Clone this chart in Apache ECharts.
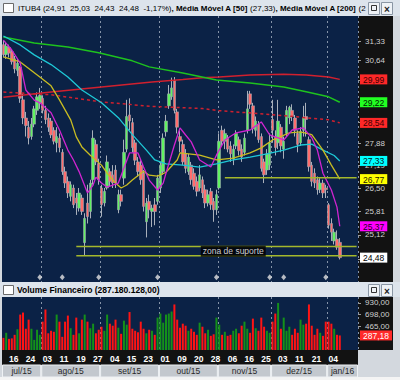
<!DOCTYPE html>
<html><head><meta charset="utf-8">
<script src="https://cdn.jsdelivr.net/npm/echarts@6/dist/echarts.min.js"></script>
<style>html,body{margin:0;padding:0;background:#fff}#c{width:400px;height:380px}</style>
</head><body><div id="c"></div>
<script>
// ---------- categories (trading days) ----------
const tradingDays = {
  '2015-07': [14,15,16,17,20,21,22,23,24,27,28,29,30,31],
  '2015-08': [3,4,5,6,7,10,11,12,13,14,17,18,19,20,21,24,25,26,27,28,31],
  '2015-09': [1,2,3,4,8,9,10,11,14,15,16,17,18,21,22,23,24,25,28,29,30],
  '2015-10': [1,2,5,6,7,8,9,13,14,15,16,19,20,21,22,23,26,27,28,29,30],
  '2015-11': [3,4,5,6,9,10,11,12,13,16,17,18,19,23,24,25,26,27,30],
  '2015-12': [1,2,3,4,7,8,9,10,11,14,15,16,17,18,21,22,23,28,29,30],
  '2016-01': [4,5,6,7,8,11,12,13,14,15,18]
};
const dateLabels = ['2015-07-16','2015-07-24','2015-08-03','2015-08-11','2015-08-19','2015-08-27','2015-09-04','2015-09-15','2015-09-23','2015-10-01','2015-10-09','2015-10-20','2015-10-28','2015-11-06','2015-11-16','2015-11-25','2015-12-03','2015-12-11','2015-12-21','2016-01-04'];
const monthNames = ['jan','fev','mar','abr','mai','jun','jul','ago','set','out','nov','dez'];
const eventDates = ['2015-07-31','2015-08-12','2015-08-31','2015-09-30','2015-10-30','2015-11-30','2015-12-07','2015-12-30'];

// ---------- price data ----------
const open  = [31.20,30.85,31.10,30.95,30.70,30.30,30.40,29.30,28.70,28.40,28.10,28.50,28.95,29.20,
  29.35,28.95,28.70,28.60,28.30,27.90,28.05,27.60,27.00,26.70,26.25,26.50,26.20,25.90,26.20,24.90,26.05,25.80,26.75,27.85,27.25,
  26.50,26.05,26.50,27.00,26.90,27.05,25.85,26.30,26.80,27.70,28.80,28.55,27.90,27.30,27.20,26.95,25.50,26.10,25.80,26.00,26.10,
  26.50,27.00,28.25,29.10,29.40,29.95,28.90,28.10,27.85,27.55,27.00,27.20,26.95,26.70,26.50,26.75,26.45,26.05,26.40,26.10,25.85,
  26.50,28.30,27.95,28.05,27.80,27.40,27.80,28.00,27.70,27.60,28.30,29.50,29.10,28.30,28.50,28.10,27.30,27.05,27.20,
  28.65,28.10,27.90,28.40,27.70,28.20,28.70,28.95,28.70,28.20,27.90,28.30,28.75,28.00,27.20,26.95,26.75,26.45,26.65,26.50,
  26.00,25.45,24.95,25.00,24.91];
const close = [30.85,31.15,30.90,30.60,30.35,30.55,29.35,28.70,28.45,28.05,28.50,29.00,29.40,29.45,
  28.95,28.65,28.40,28.15,27.95,28.10,27.75,27.00,26.65,26.35,26.60,26.00,26.05,26.35,25.80,25.60,25.65,26.65,28.05,27.30,26.75,
  26.00,26.40,27.30,26.70,26.65,26.65,26.30,26.10,27.60,28.75,28.60,27.75,27.35,27.00,26.75,25.95,26.05,25.85,25.90,25.80,26.80,
  27.20,28.05,28.60,29.50,29.70,28.95,28.40,27.95,27.30,27.10,27.45,26.75,26.55,26.40,26.90,26.35,26.05,26.30,26.00,25.85,26.30,
  27.95,27.95,28.20,27.70,27.55,27.70,28.20,27.65,27.45,28.05,29.00,29.15,28.35,28.60,28.00,27.10,26.90,27.55,27.90,
  28.30,27.75,28.60,27.80,27.95,28.95,29.05,28.75,28.30,27.85,28.25,28.70,28.65,27.15,26.70,26.65,26.45,26.65,26.35,26.45,
  25.40,25.20,25.20,24.77,24.48];
const low   = [30.75,30.70,30.75,30.50,30.20,30.10,29.20,28.50,28.10,27.85,28.00,28.40,28.80,29.00,
  28.85,28.50,28.25,28.05,27.85,27.60,27.60,26.90,26.50,26.20,26.10,25.90,25.70,25.80,25.70,24.55,25.45,25.60,26.60,27.20,26.60,
  25.65,25.95,26.45,26.55,26.50,26.50,25.75,25.95,26.60,27.60,28.30,27.60,27.20,26.85,26.60,25.80,25.05,25.60,25.35,25.40,26.00,
  26.35,26.90,28.10,29.00,29.30,28.85,28.20,27.60,27.20,26.95,26.90,26.60,26.45,26.25,26.40,26.20,25.90,25.95,25.85,25.50,25.70,
  26.45,27.80,27.70,27.60,27.30,27.20,27.70,27.50,27.30,27.50,28.20,29.00,28.20,28.10,27.90,27.00,26.65,26.90,27.05,
  27.90,27.50,27.70,27.60,27.40,28.10,28.50,28.60,28.10,27.60,27.80,28.10,28.10,27.00,26.55,26.50,26.30,26.35,26.20,26.20,
  25.30,24.95,24.85,24.70,24.43];
const high  = [31.35,31.30,31.20,31.05,30.80,30.70,30.45,29.50,28.90,28.60,28.70,29.10,29.55,29.70,
  29.45,29.10,28.85,28.70,28.40,28.40,28.20,27.70,27.15,26.85,26.70,26.60,26.35,26.50,26.30,25.75,26.60,26.75,28.30,28.00,27.40,
  26.60,26.50,27.50,27.10,27.20,27.20,26.45,26.45,28.00,29.30,29.35,28.70,28.00,27.45,27.35,27.05,26.20,26.30,26.00,26.20,26.90,
  27.30,28.20,28.80,29.80,30.05,30.07,29.00,28.30,28.00,27.70,27.55,27.30,27.10,26.85,27.20,26.85,26.60,26.45,26.50,26.20,26.45,
  28.20,28.45,28.35,28.15,27.95,27.85,28.30,28.10,27.85,28.20,29.60,29.60,29.20,28.75,28.60,28.20,27.40,27.70,28.20,
  29.30,28.30,29.30,28.50,28.10,29.10,29.10,29.15,28.80,28.30,28.40,29.10,29.20,28.10,27.30,27.10,26.85,26.80,26.75,26.60,
  26.05,25.60,25.30,25.25,25.03];
// volume in millions
const volume = [240,340,220,230,300,410,700,740,420,600,420,200,400,300,
  560,800,330,380,360,700,560,260,560,680,430,300,640,330,600,700,560,430,520,330,400,
  460,380,700,520,480,600,440,320,580,500,750,420,380,350,560,420,330,400,380,300,640,
  720,540,700,720,760,900,600,440,520,480,380,420,360,300,540,460,330,400,280,310,640,
  500,300,360,280,300,380,420,330,480,560,420,340,620,430,380,640,460,380,340,
  560,720,930,420,640,380,460,300,420,340,600,500,520,900,480,300,420,340,280,560,
  560,520,420,300,287.180128];

// ---------- indicator lines: [category index, price] ----------
const lineGreen = [[0,31.47],[11,31.26],[23,31.12],[34,30.91],[46,30.63],[52,30.42],[64,30.21],[76,29.97],[88,29.87],[100,29.73],[108,29.57],[116,29.40],[120,29.22]];
const lineRed = [[0,29.39],[17,29.56],[35,29.73],[53,29.90],[64,29.99],[71,30.05],[77,30.07],[88,30.14],[100,30.17],[108,30.14],[116,30.07],[120,29.99]];
const lineRedDash = [[0,29.56],[17,29.47],[35,29.23],[53,29.08],[71,29.01],[77,28.94],[96,28.81],[116,28.64],[120,28.54]];
const ma50 = [[0,31.51],[6,31.19],[11,30.84],[17,30.50],[23,30.07],[28,29.63],[35,29.20],[41,28.71],[46,28.16],[51,27.67],[54,27.36],[58,27.24],[64,27.20],[70,27.14],[76,27.24],[82,27.36],[88,27.45],[94,27.55],[100,27.67],[106,27.83],[110,27.86],[114,27.67],[118,27.50],[120,27.33]];
const lineYellow = [[0,30.77],[6,30.59],[13,30.07],[17,29.77],[20,29.30],[24,28.64],[26,28.09],[28,27.77],[31,27.51],[35,27.20],[37,26.95],[40,26.65],[42,26.50],[44,26.59],[46,26.74],[50,27.01],[52,26.89],[55,26.86],[58,26.98],[62,27.36],[63,27.58],[70,27.51],[76,27.36],[82,27.42],[88,27.58],[92,27.74],[96,27.99],[102,28.22],[106,28.25],[110,28.16],[114,27.67],[117,27.20],[120,26.77]];
const lineMagenta = [[0,31.36],[3,31.01],[6,30.55],[8,29.63],[11,29.29],[13,29.20],[17,28.87],[20,28.31],[23,27.67],[25,27.36],[27,27.00],[30,26.35],[32,26.59],[33,26.83],[35,26.65],[37,26.53],[39,26.59],[41,26.65],[43,27.11],[45,27.58],[48,27.58],[50,27.14],[52,26.74],[55,26.44],[57,26.65],[58,26.95],[61,27.83],[63,28.38],[65,28.15],[67,27.93],[70,27.36],[74,27.14],[76,27.51],[79,27.99],[83,28.22],[88,28.31],[92,28.57],[95,28.15],[100,27.99],[103,28.31],[107,28.38],[110,28.06],[112,27.67],[114,26.95],[117,26.44],[119,25.93],[120,25.37]];
const levelLine = [[79,26.81],[126,26.81]];
const supportTop = [[26,24.79],[126,24.79]];
const supportBottom = [[26,24.53],[126,24.53]];
const supportLabel = [82, 24.66, 'zona de suporte'];

// ---------- axis ticks ----------
const priceTicks = [31.33,30.64,29.95,29.26,28.57,27.88,27.19,26.50,25.81,25.12,24.43];
const priceLabels = [31.33,30.64,27.88,27.19,26.50,25.81,25.12];   // the others sit under the value boxes
const priceRange = [23.81, 32.235];
const eventLevel = 23.94;
const volTicks = [232,465,698,930];
const volLabels = [465,698,930];
const volMax = 1047;

// ---------- build ----------
const L = Math.log;
const fmt = v => v.toFixed(2).replace('.', ',');
const cats = [];
Object.keys(tradingDays).forEach(m => tradingDays[m].forEach(d => cats.push(m + '-' + String(d).padStart(2,'0'))));
const n = close.length;
const monthStart = new Set();
const monthSpans = [];
cats.forEach((c, i) => {
  const m = c.slice(0,7);
  if (i === 0 || cats[i-1].slice(0,7) !== m) {
    if (i > 0) monthStart.add(i);
    monthSpans.push([i, i, monthNames[+c.slice(5,7)-1] + '/' + c.slice(2,4)]);
  } else monthSpans[monthSpans.length-1][1] = i;
});
const labelSet = new Set(dateLabels);

const candles = open.map((o,i) => [L(o), L(close[i]), L(low[i]), L(high[i])]);
const bodies = open.map((o,i) => [L(o), L(close[i]), L(Math.min(o,close[i])), L(Math.max(o,close[i]))]);
const toLn = arr => arr.map(p => [p[0], L(p[1])]);
const last = a => a[a.length-1][1];

const markBoxes = [
  {v: last(lineRed), bg:'#ff2828', fg:'#3a0000'},
  {v: last(lineGreen), bg:'#22ff22', fg:'#002000'},
  {v: last(lineRedDash), bg:'#ff2828', fg:'#3a0000'},
  {v: last(ma50), bg:'#00ffff', fg:'#002020'},
  {v: last(lineYellow), bg:'#ffff00', fg:'#202000'},
  {v: last(lineMagenta), bg:'#ff00ff', fg:'#200020'},
  {v: close[n-1], bg:'#ffffff', fg:'#000000'}
];
const rich = {};
markBoxes.forEach((b,i) => rich['m'+i] = {backgroundColor:b.bg, color:b.fg, padding:[1,3,0,3], fontSize:8.5, fontFamily:'Liberation Sans', lineHeight:10});

const prevClose = close[n-2];
const pct = (close[n-1]/prevClose - 1) * 100;
const volRaw = volume[n-1] * 1e6;
const volStr = Math.round(volRaw).toString().replace(/\B(?=(\d{3})+(?!\d))/g, '.') + ',00';

// title: the last value is cut off by the window buttons, as in the original
const titleParts = [
  ['ITUB4 ', 'normal', '#1a1a1a'],
  ['(' + [open[n-1], high[n-1], low[n-1], close[n-1]].map(fmt).join('  ') + '  ' + fmt(pct) + '%)', 'normal', '#9a1010'],
  [', ', 'bold', '#1a1a1a'],
  ['Média Móvel A [50] ', 'bold', '#1a1a1a'],
  ['(' + fmt(last(ma50)) + ')', 'normal', '#2a2aa8'],
  [', ', 'bold', '#1a1a1a'],
  ['Média Móvel A [200] ', 'bold', '#1a1a1a'],
  [('(' + fmt(last(lineRed)) + ')').slice(0, 2), 'normal', '#2a2aa8']
];
const cv = document.createElement('canvas').getContext('2d');
function widthAt(parts, fs) { return parts.reduce((s,p) => { cv.font = p[1] + ' ' + fs + 'px "Liberation Sans"'; return s + cv.measureText(p[0]).width; }, 0); }
const titleFs = Math.max(6, Math.min(10, 10 * 348 / widthAt(titleParts, 10)));
const titleRich = {};
let titleText = '';
titleParts.forEach((p,i) => { titleRich['t'+i] = {fontWeight:p[1], color:p[2], fontSize:titleFs, fontFamily:'Liberation Sans'}; titleText += '{t'+i+'|' + p[0] + '}'; });

function winButtons(y) {
  return [
    {type:'rect', z:100, shape:{x:368.5,y:y+0.5,width:11,height:12}, style:{fill:'#eef2f6', stroke:'#8a96a4', lineWidth:1}},
    {type:'rect', z:101, shape:{x:371.5,y:y+3.5,width:5,height:5}, style:{fill:'none', stroke:'#333', lineWidth:1}},
    {type:'rect', z:100, shape:{x:381.5,y:y+0.5,width:11,height:12}, style:{fill:'#eef2f6', stroke:'#8a96a4', lineWidth:1}},
    {type:'text', z:101, x:387, y:y+7, style:{text:'×', fontSize:10, fontWeight:'bold', fill:'#222', align:'center', verticalAlign:'middle', fontFamily:'Liberation Sans'}}
  ];
}

const chart = echarts.init(document.getElementById('c'), null, {renderer:'svg', width:400, height:380});
const gridLine = {show:true, interval:(i) => monthStart.has(i), lineStyle:{color:'#8593a8', type:[2,3], width:1}};

chart.setOption({
  animation:false,
  backgroundColor:'#d3d8de',
  textStyle:{fontFamily:'Liberation Sans'},
  grid:[
    {left:2, top:16, width:356, height:266, show:true, backgroundColor:'#0b2246', borderWidth:0},
    {left:2, top:297, width:356, height:53, show:true, backgroundColor:'#0b2246', borderWidth:0},
    {left:2, top:365, width:356, height:12, show:false}
  ],
  xAxis:[
    {gridIndex:0, type:'category', data:cats, boundaryGap:true, axisLine:{show:false}, axisTick:{show:false}, axisLabel:{show:false}, splitLine:gridLine},
    {gridIndex:1, type:'category', data:cats, boundaryGap:true, axisLine:{show:false}, axisTick:{show:false}, splitLine:gridLine,
      axisLabel:{show:true, interval:(i,v) => labelSet.has(v), formatter:v => v.slice(8,10), color:'#ffffff', fontWeight:'bold', fontSize:8.5, fontFamily:'Liberation Sans', align:'left', margin:4}},
    {gridIndex:2, type:'category', data:cats, boundaryGap:true, show:false}
  ],
  yAxis:[
    {gridIndex:0, type:'value', position:'right', min:L(priceRange[0]), max:L(priceRange[1]), splitLine:{show:false}, axisLine:{show:false},
      axisTick:{show:true, length:3, lineStyle:{color:'#9a9a9a'}, customValues:priceTicks.map(L)},
      axisLabel:{color:'#d0d0d0', fontSize:8, fontFamily:'Liberation Sans', margin:7, customValues:priceLabels.map(L), formatter:v => fmt(Math.exp(v))}},
    {gridIndex:0, type:'value', position:'right', z:5, min:L(priceRange[0]), max:L(priceRange[1]), splitLine:{show:false}, axisLine:{show:false}, axisTick:{show:false},
      axisLabel:{margin:2, customValues:markBoxes.map(b => L(b.v)), rich:rich,
        formatter:v => { const p = Math.exp(v); let k = 0, d = 1e9; markBoxes.forEach((b,i) => { const dd = Math.abs(b.v - p); if (dd < d) { d = dd; k = i; } }); return '{m'+k+'|' + fmt(markBoxes[k].v) + '}'; }}},
    {gridIndex:1, type:'value', position:'right', min:0, max:volMax, splitLine:{show:false}, axisLine:{show:false},
      axisTick:{show:true, length:3, lineStyle:{color:'#9a9a9a'}, customValues:volTicks},
      axisLabel:{color:'#d0d0d0', fontSize:8, fontFamily:'Liberation Sans', margin:7, customValues:volLabels, formatter:v => Math.round(v) + ',00'}},
    {gridIndex:1, type:'value', position:'right', z:5, min:0, max:volMax, splitLine:{show:false}, axisLine:{show:false}, axisTick:{show:false},
      axisLabel:{margin:2, customValues:[volume[n-1]], formatter:v => '{b|' + fmt(v) + '}',
        rich:{b:{backgroundColor:'#ff2a2a', color:'#ffffff', padding:[1,3,0,3], fontSize:8.5, fontFamily:'Liberation Sans', lineHeight:10}}}},
    {gridIndex:2, type:'value', min:0, max:1, show:false}
  ],
  series:[
    {type:'candlestick', xAxisIndex:0, yAxisIndex:0, data:candles, barWidth:1, z:2,
      itemStyle:{color:'#a9b0bb', color0:'#a9b0bb', borderColor:'#a9b0bb', borderColor0:'#a9b0bb', borderWidth:1}},
    {type:'candlestick', xAxisIndex:0, yAxisIndex:0, data:bodies, barWidth:3, z:3,
      itemStyle:{color:'#62f262', color0:'#ff6e6e', borderColor:'#9ea6b0', borderColor0:'#9ea6b0', borderWidth:0.6}},
    {type:'line', xAxisIndex:0, yAxisIndex:0, data:toLn(lineRed), showSymbol:false, z:4, lineStyle:{color:'#d0202e', width:1.5}},
    {type:'line', xAxisIndex:0, yAxisIndex:0, data:toLn(lineRedDash), showSymbol:false, z:4, lineStyle:{color:'#d0202e', width:1.5, type:[3,3]}},
    {type:'line', xAxisIndex:0, yAxisIndex:0, data:toLn(lineGreen), showSymbol:false, z:4, lineStyle:{color:'#1ec21e', width:1.5}},
    {type:'line', xAxisIndex:0, yAxisIndex:0, data:toLn(ma50), showSymbol:false, z:4, lineStyle:{color:'#1ec8d6', width:1.3}},
    {type:'line', xAxisIndex:0, yAxisIndex:0, data:toLn(lineYellow), showSymbol:false, z:4, lineStyle:{color:'#c8bc22', width:1.3}},
    {type:'line', xAxisIndex:0, yAxisIndex:0, data:toLn(lineMagenta), showSymbol:false, z:4, lineStyle:{color:'#d024d0', width:1.3}},
    {type:'line', xAxisIndex:0, yAxisIndex:0, data:toLn(levelLine), showSymbol:false, z:4, lineStyle:{color:'#a4b82c', width:1.5}},
    {type:'line', xAxisIndex:0, yAxisIndex:0, data:toLn(supportTop), showSymbol:false, z:4, lineStyle:{color:'#a4b82c', width:1.5}},
    {type:'line', xAxisIndex:0, yAxisIndex:0, data:toLn(supportBottom), showSymbol:false, z:4, lineStyle:{color:'#a4b82c', width:1.5}},
    {type:'scatter', xAxisIndex:0, yAxisIndex:0, z:6, symbolSize:0, data:[[supportLabel[0], L(supportLabel[1])]],
      label:{show:true, position:'inside', formatter:supportLabel[2], color:'#ffffff', backgroundColor:'#000000', padding:[1,2,1,2], fontSize:8.5, fontFamily:'Liberation Sans'}},
    {type:'scatter', xAxisIndex:0, yAxisIndex:0, z:6, symbol:'diamond', symbolSize:[5,6], itemStyle:{color:'#e2e2e2'},
      data:eventDates.map(d => [cats.indexOf(d), L(eventLevel)])},
    {type:'bar', xAxisIndex:1, yAxisIndex:2, data:volume, barWidth:2,
      itemStyle:{color:p => close[p.dataIndex] >= open[p.dataIndex] ? '#14901a' : '#ff1414'}},
    {type:'custom', xAxisIndex:2, yAxisIndex:4, data:monthSpans.map(s => [s[0], s[1]]),
      renderItem:(params, api) => {
        const s = api.value(0), e = api.value(1);
        const p0 = api.coord([s, 0]), p1 = api.coord([e, 1]);
        const bw = api.size([1, 0])[0];
        const x0 = p0[0] - bw/2, x1 = p1[0] + bw/2;
        return {type:'group', children:[
          {type:'rect', shape:{x:x0+0.5, y:p1[1], width:x1-x0-1, height:p0[1]-p1[1]}, style:{fill:'#c3c8ce', stroke:'#eef1f4', lineWidth:1}},
          {type:'text', style:{text:monthSpans[params.dataIndex][2], x:(x0+x1)/2, y:(p0[1]+p1[1])/2, align:'center', verticalAlign:'middle', fill:'#2a2a2a', fontSize:8.5, fontFamily:'Liberation Sans'}}
        ]};
      }}
  ],
  graphic:[
    {type:'rect', z:-1, shape:{x:0,y:0,width:400,height:16}, style:{fill:'#dde4ec'}},
    {type:'rect', z:1, shape:{x:3.5,y:3.5,width:10,height:9}, style:{fill:'#ffffff', stroke:'#6a6a6a', lineWidth:1}},
    {type:'text', z:1, x:18, y:8.5, style:{text:titleText, rich:titleRich, verticalAlign:'middle'}},
    ...winButtons(2),
    {type:'rect', z:-1, shape:{x:358,y:16,width:35,height:266}, style:{fill:'#121212'}},
    {type:'rect', z:-1, shape:{x:0,y:282,width:400,height:15}, style:{fill:'#dde4ec'}},
    {type:'rect', z:1, shape:{x:3.5,y:285.5,width:10,height:9}, style:{fill:'#ffffff', stroke:'#6a6a6a', lineWidth:1}},
    {type:'text', z:1, x:17, y:290, style:{text:'{a|Volume Financeiro }{b|(' + volStr + ')}', verticalAlign:'middle',
      rich:{a:{fontWeight:'bold', color:'#1a1a1a', fontSize:8.5, fontFamily:'Liberation Sans'}, b:{fontWeight:'bold', color:'#2a2aa8', fontSize:8.5, fontFamily:'Liberation Sans'}}}},
    ...winButtons(284),
    {type:'rect', z:-1, shape:{x:358,y:297,width:35,height:53}, style:{fill:'#121212'}},
    {type:'rect', z:-1, shape:{x:2,y:350,width:356,height:15}, style:{fill:'#121212'}},
    {type:'rect', z:-1, shape:{x:0,y:377,width:400,height:3}, style:{fill:'#f4f4f4'}}
  ]
});
</script></body></html>
